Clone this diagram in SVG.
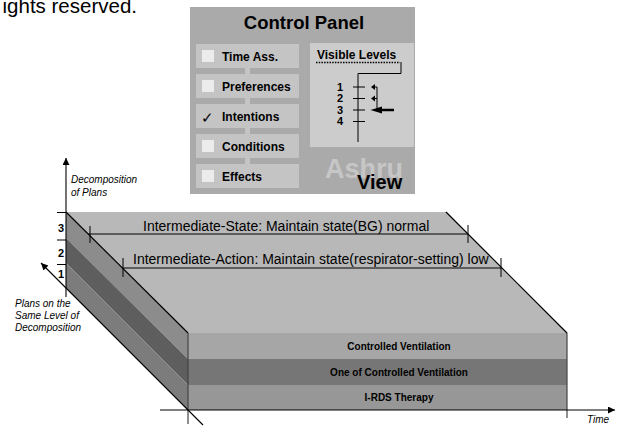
<svg xmlns="http://www.w3.org/2000/svg" width="621" height="426" viewBox="0 0 621 426">
<defs>
<marker id="arr" viewBox="0 0 10 10" refX="10" refY="5" markerWidth="9" markerHeight="7" markerUnits="userSpaceOnUse" orient="auto">
<path d="M0,0 L10,5 L0,10 z" fill="#000"/>
</marker>
<style>
.t{font-family:"Liberation Sans",Arial,sans-serif;fill:#000}
.b{font-weight:bold}
.i{font-style:italic}
.btn{fill:#c4c4c4}
.chk{fill:#ececec}
.bl{font-family:"Liberation Sans",Arial,sans-serif;font-weight:bold;font-size:12px}
.ax{stroke:#000;stroke-width:1.1;fill:none}
.edge{stroke:#000;stroke-width:1.2;fill:none}
</style>
</defs>
<rect width="621" height="426" fill="#fff"/>
<text class="t" x="137" y="13" font-size="20.5" text-anchor="end">ights reserved.</text>

<g id="control-panel">
<rect x="190" y="7" width="225" height="187" fill="#aaaaaa"/>
<text class="t b" x="304" y="29" font-size="18.5" text-anchor="middle">Control Panel</text>
<rect x="245" y="60" width="5" height="120" fill="#c4c4c4"/>
<g id="btn-time"><rect class="btn" x="196" y="44" width="103" height="24"/><rect class="chk" x="202" y="50" width="12" height="12"/><text class="bl" x="222" y="61">Time Ass.</text></g>
<g id="btn-pref"><rect class="btn" x="196" y="74" width="103" height="24"/><rect class="chk" x="202" y="80" width="12" height="12"/><text class="bl" x="222" y="91">Preferences</text></g>
<g id="btn-int"><rect class="btn" x="196" y="104" width="103" height="24"/><text class="t" x="201" y="123" font-size="15" font-family="DejaVu Sans">✓</text><text class="bl" x="222" y="121">Intentions</text></g>
<g id="btn-cond"><rect class="btn" x="196" y="134" width="103" height="24"/><rect class="chk" x="202" y="140" width="12" height="12"/><text class="bl" x="222" y="151">Conditions</text></g>
<g id="btn-eff"><rect class="btn" x="196" y="164" width="103" height="24"/><rect class="chk" x="202" y="170" width="12" height="12"/><text class="bl" x="222" y="181">Effects</text></g>
<g id="visible-levels">
<rect x="310" y="43" width="104" height="104" fill="#cccccc"/>
<text class="bl" x="317" y="59">Visible Levels</text>
<line x1="316" y1="62.5" x2="400" y2="62.5" stroke="#000" stroke-width="1.5" stroke-dasharray="1.5 1.2"/>
<polyline points="401,62 401,73.5 358,73.5 358,142" fill="none" stroke="#000" stroke-width="1"/>
<g stroke="#000" stroke-width="1">
<line x1="353" y1="87" x2="365" y2="87"/>
<line x1="353" y1="98.5" x2="365" y2="98.5"/>
<line x1="353" y1="110" x2="365" y2="110"/>
<line x1="353" y1="121.5" x2="365" y2="121.5"/>
</g>
<g class="t b" font-size="11" text-anchor="middle">
<text x="340" y="91">1</text>
<text x="340" y="102">2</text>
<text x="340" y="113.5">3</text>
<text x="340" y="125">4</text>
</g>
<polyline points="374,87 377,87 377,110" fill="none" stroke="#000" stroke-width="1"/>
<line x1="374" y1="98.5" x2="377" y2="98.5" stroke="#000" stroke-width="1"/>
<polygon points="371,87 375,84 375,90" fill="#000"/>
<polygon points="371,98.5 375,95.5 375,101.5" fill="#000"/>
<line x1="380" y1="110" x2="394" y2="110" stroke="#000" stroke-width="2.5"/>
<polygon points="370.5,110 382,106.5 382,113.5" fill="#000"/>
</g>
<text x="325" y="178" font-family="Liberation Sans,Arial,sans-serif" font-weight="bold" font-size="27" fill="#c6c6c6">Ashru</text>
<text class="t b" x="357" y="189" font-size="20">View</text>
</g>

<g id="slab">
<polygon points="66,212 446,212 567,333 188,333" fill="#b8b8b8"/>
<polygon points="66,212 188,333 188,359 66,238" fill="#8c8c8c"/>
<polygon points="66,238 188,359 188,385 66,263" fill="#5e5e5e"/>
<polygon points="66,263 188,385 188,410 66,288" fill="#7c7c7c"/>
<rect x="188" y="333" width="379" height="26" fill="#a6a6a6"/>
<rect x="188" y="359" width="379" height="26" fill="#767676"/>
<rect x="188" y="385" width="379" height="25" fill="#979797"/>
<line class="edge" x1="66" y1="212" x2="188" y2="333"/>
<line class="edge" x1="446" y1="212" x2="567" y2="333"/>
<line x1="188" y1="333" x2="188" y2="424" stroke="#444" stroke-width="1.2"/>
<line x1="567" y1="333" x2="567" y2="418" stroke="#444" stroke-width="1.2"/>
<g id="level-ticks" stroke="#000" stroke-width="1">
<line x1="57" y1="212.5" x2="66" y2="212.5"/>
<line x1="57" y1="240" x2="66" y2="240"/>
<line x1="57" y1="264.5" x2="66" y2="264.5"/>
</g>
<g class="t b" font-size="11">
<text x="58" y="232">3</text>
<text x="58" y="257">2</text>
<text x="58" y="278">1</text>
</g>
<g class="t b" font-size="10" text-anchor="middle">
<text x="399" y="350">Controlled Ventilation</text>
<text x="399" y="376">One of Controlled Ventilation</text>
<text x="399" y="401">I-RDS Therapy</text>
</g>
</g>

<g id="plan-state">
<line x1="88" y1="234" x2="468" y2="234" stroke="#000" stroke-width="1"/>
<line x1="90" y1="226" x2="90" y2="243" stroke="#000" stroke-width="1"/>
<line x1="468" y1="225" x2="468" y2="243" stroke="#000" stroke-width="1"/>
<text class="t" x="143" y="231" font-size="14">Intermediate-State: Maintain state(BG) normal</text>
</g>
<g id="plan-action">
<line x1="122" y1="268" x2="502" y2="268" stroke="#000" stroke-width="1"/>
<line x1="123" y1="258" x2="123" y2="277" stroke="#000" stroke-width="1"/>
<line x1="501" y1="258" x2="501" y2="277" stroke="#000" stroke-width="1"/>
<text class="t" x="133" y="264" font-size="14">Intermediate-Action: Maintain state(respirator-setting) low</text>
</g>

<g id="connectors">
<line class="ax" x1="66" y1="297" x2="66" y2="158" marker-end="url(#arr)"/>
<line class="ax" x1="203" y1="425" x2="41" y2="263" marker-end="url(#arr)"/>
<line class="ax" x1="160" y1="410" x2="615" y2="410" marker-end="url(#arr)"/>
</g>

<g class="t i" font-size="10">
<text x="71" y="183">Decomposition</text>
<text x="71" y="196">of Plans</text>
<text x="15" y="307">Plans on the</text>
<text x="15" y="319">Same Level of</text>
<text x="15" y="331">Decomposition</text>
<text x="587" y="423">Time</text>
</g>
</svg>
